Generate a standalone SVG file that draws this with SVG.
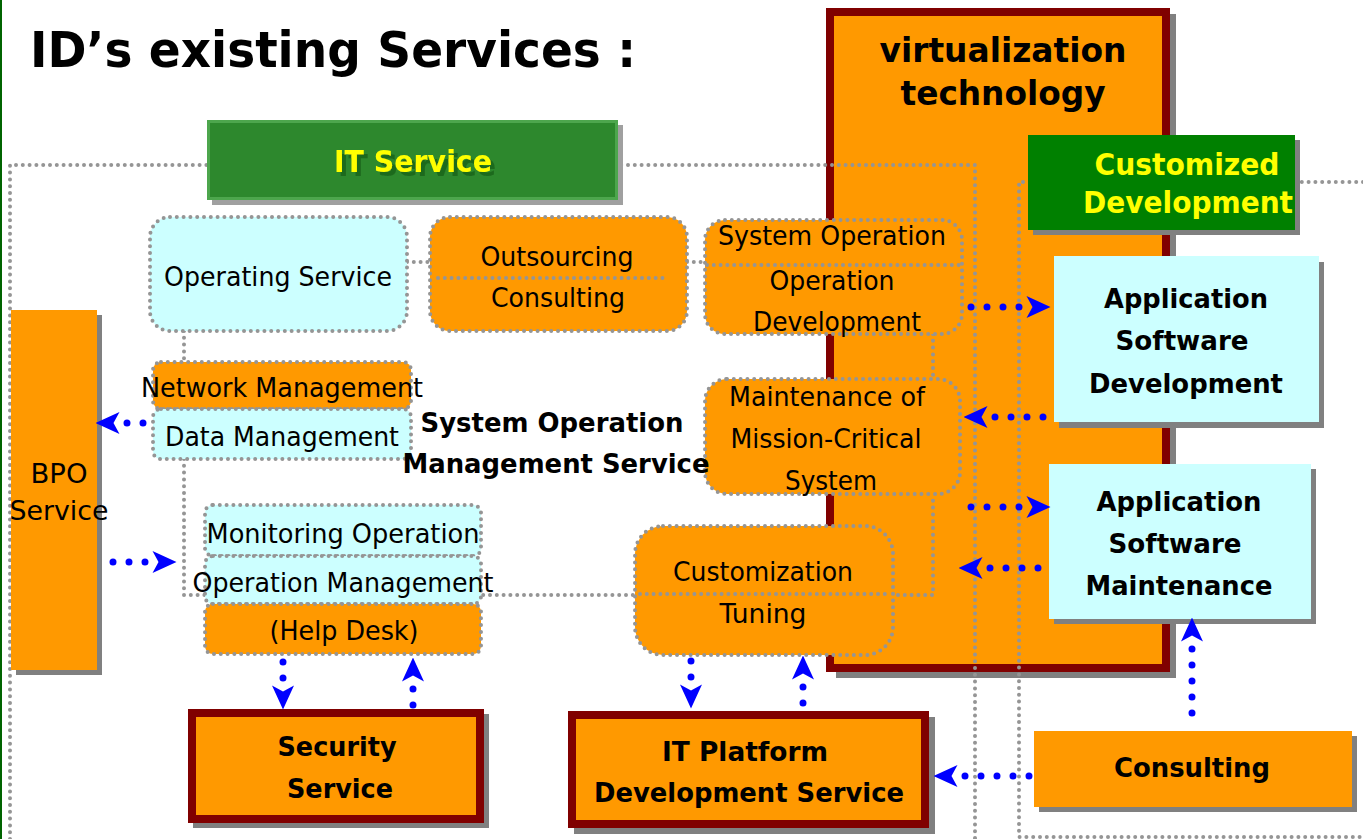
<svg xmlns="http://www.w3.org/2000/svg" width="1363" height="839" viewBox="0 0 1363 839">
<defs>
<style>
.t{font-family:"DejaVu Sans","Liberation Sans",sans-serif;font-size:27px;fill:#000;text-anchor:middle}
.b{font-weight:bold}
.y{fill:#FFFF00}
.dot{fill:none;stroke:#959595;stroke-width:4;stroke-dasharray:0 6.8;stroke-linecap:round}
.rbox{stroke:#959595;stroke-width:4;stroke-dasharray:0 6.8;stroke-linecap:round}
.or{fill:#FF9900}
.cy{fill:#CCFFFF}
.sh{fill:#808080}
.red{fill:#FF9900;stroke:#800000;stroke-width:8}
.arr{fill:none;stroke:#0000FF;stroke-width:7;stroke-dasharray:0 16;stroke-linecap:round;marker-end:url(#ah)}
</style>
<marker id="ah" viewBox="0 0 31 22" refX="0" refY="11" markerWidth="31" markerHeight="22" markerUnits="userSpaceOnUse" orient="auto">
<path d="M7,0 L31,11 L7,22 L13,11 Z" fill="#0000FF"/>
</marker>
<filter id="tsh" x="-10%" y="-20%" width="130%" height="160%">
<feOffset in="SourceAlpha" dx="4" dy="4" result="o"/>
<feFlood flood-color="#1E6A1E"/>
<feComposite operator="in" in2="o" result="s"/>
<feMerge><feMergeNode in="s"/><feMergeNode in="SourceGraphic"/></feMerge>
</filter>
</defs>
<rect width="1363" height="839" fill="#FFFFFF"/>
<rect x="0" y="0" width="2" height="839" fill="#006400"/>

<g id="title">
<text class="t b" x="30" y="67" style="font-size:50px;text-anchor:start" textLength="606" lengthAdjust="spacingAndGlyphs">ID’s existing Services :</text>
</g>

<g id="virtualization">
<rect class="sh" x="836" y="14" width="340" height="664"/>
<rect class="red" x="830" y="12" width="336" height="656"/>
<text class="t b" x="1003" y="62" style="font-size:33px" textLength="247" lengthAdjust="spacingAndGlyphs">virtualization</text>
<text class="t b" x="1003" y="105" style="font-size:33px" textLength="205" lengthAdjust="spacingAndGlyphs">technology</text>
</g>

<g id="regions">
<path class="dot" d="M10,839 V165 H975 V839"/>
<path class="dot" d="M1363,182 H1019 V837 H1363"/>
</g>

<g id="group-lines">
<path class="dot" d="M407,262 H430"/>
<path class="dot" d="M687,262 H705"/>
<path class="dot" d="M184,331 V362"/>
<path class="dot" d="M184,459 V595 H933 V494"/>
<path class="dot" d="M933,334 V379"/>
</g>

<g id="it-service">
<rect x="212" y="125" width="411" height="80" fill="#A0A0A0"/>
<rect x="208.5" y="121.5" width="408" height="77" fill="#2D882D" stroke="#4DA64D" stroke-width="3"/>
<text class="t b y" x="413" y="172" style="font-size:30px" filter="url(#tsh)" textLength="158" lengthAdjust="spacingAndGlyphs">IT Service</text>
</g>

<g id="customized-development">
<rect class="sh" x="1033" y="140" width="267" height="95"/>
<rect x="1028" y="135" width="267" height="95" fill="#008000"/>
<text class="t b y" x="1187" y="175" style="font-size:30px" textLength="185" lengthAdjust="spacingAndGlyphs">Customized</text>
<text class="t b y" x="1188" y="213" style="font-size:30px" textLength="210" lengthAdjust="spacingAndGlyphs">Development</text>
</g>

<g id="operating-service">
<rect class="rbox cy" x="150" y="217" width="257" height="114" rx="20"/>
<text class="t" x="278" y="286" textLength="228" lengthAdjust="spacingAndGlyphs">Operating Service</text>
</g>

<g id="outsourcing-consulting">
<rect class="rbox or" x="430" y="217" width="257" height="114" rx="20"/>
<path class="dot" d="M438,278 H668"/>
<text class="t" x="557" y="266" textLength="153" lengthAdjust="spacingAndGlyphs">Outsourcing</text>
<text class="t" x="558" y="307" textLength="134" lengthAdjust="spacingAndGlyphs">Consulting</text>
</g>

<g id="system-operation">
<rect class="rbox or" x="705" y="220" width="257" height="114" rx="20"/>
<path class="dot" d="M707,265 H960"/>
<text class="t" x="832" y="245" textLength="228" lengthAdjust="spacingAndGlyphs">System Operation</text>
<text class="t" x="832" y="290" textLength="125" lengthAdjust="spacingAndGlyphs">Operation</text>
<text class="t" x="837" y="331" textLength="168" lengthAdjust="spacingAndGlyphs">Development</text>
</g>

<g id="maintenance">
<rect class="rbox or" x="705" y="379" width="255" height="115" rx="22"/>
<text class="t" x="827" y="406" textLength="196" lengthAdjust="spacingAndGlyphs">Maintenance of</text>
<text class="t" x="826" y="448" textLength="191" lengthAdjust="spacingAndGlyphs">Mission-Critical</text>
<text class="t" x="831" y="490" textLength="92" lengthAdjust="spacingAndGlyphs">System</text>
</g>

<g id="network-management">
<rect class="rbox or" x="153" y="362" width="258" height="47" rx="8"/>
<text class="t" x="282" y="397" textLength="282" lengthAdjust="spacingAndGlyphs">Network Management</text>
</g>

<g id="data-management">
<rect class="rbox cy" x="153" y="409" width="258" height="50" rx="8"/>
<text class="t" x="282" y="446" textLength="234" lengthAdjust="spacingAndGlyphs">Data Management</text>
</g>

<g id="system-operation-management-service">
<text class="t b" x="552" y="432" style="font-size:26px" textLength="263" lengthAdjust="spacingAndGlyphs">System Operation</text>
<text class="t b" x="556" y="473" style="font-size:26px" textLength="307" lengthAdjust="spacingAndGlyphs">Management Service</text>
</g>

<g id="bpo-service">
<rect class="sh" x="16" y="315" width="86" height="360"/>
<rect class="or" x="11" y="310" width="86" height="360"/>
<text class="t" x="59" y="483" textLength="57" lengthAdjust="spacingAndGlyphs">BPO</text>
<text class="t" x="59" y="520" textLength="99" lengthAdjust="spacingAndGlyphs">Service</text>
</g>

<g id="monitoring-operation">
<rect class="rbox cy" x="205" y="505" width="276" height="51" rx="8"/>
<text class="t" x="343" y="543" textLength="273" lengthAdjust="spacingAndGlyphs">Monitoring Operation</text>
</g>

<g id="operation-management">
<rect class="rbox cy" x="205" y="556" width="276" height="48" rx="8"/>
<text class="t" x="343" y="592" textLength="301" lengthAdjust="spacingAndGlyphs">Operation Management</text>
</g>

<g id="help-desk">
<rect class="rbox or" x="205" y="604" width="276" height="50" rx="8"/>
<text class="t" x="344" y="640" textLength="149" lengthAdjust="spacingAndGlyphs">(Help Desk)</text>
</g>

<g id="customization-tuning">
<rect class="rbox or" x="635" y="526" width="258" height="129" rx="28"/>
<path class="dot" d="M640,594 H890"/>
<text class="t" x="763" y="581" textLength="180" lengthAdjust="spacingAndGlyphs">Customization</text>
<text class="t" x="763" y="623" textLength="87" lengthAdjust="spacingAndGlyphs">Tuning</text>
</g>

<g id="security-service">
<rect class="sh" x="193" y="714" width="296" height="114"/>
<rect class="red" x="192" y="713" width="288" height="106"/>
<text class="t b" x="337" y="756" textLength="119" lengthAdjust="spacingAndGlyphs">Security</text>
<text class="t b" x="340" y="798" textLength="106" lengthAdjust="spacingAndGlyphs">Service</text>
</g>

<g id="it-platform">
<rect class="sh" x="574" y="717" width="361" height="117"/>
<rect class="red" x="572" y="715" width="353" height="109"/>
<text class="t b" x="745" y="761" textLength="166" lengthAdjust="spacingAndGlyphs">IT Platform</text>
<text class="t b" x="749" y="802" textLength="310" lengthAdjust="spacingAndGlyphs">Development Service</text>
</g>

<g id="app-software-development">
<rect class="sh" x="1059" y="262" width="265" height="166"/>
<rect class="cy" x="1054" y="256" width="265" height="166"/>
<text class="t b" x="1186" y="308" textLength="164" lengthAdjust="spacingAndGlyphs">Application</text>
<text class="t b" x="1182" y="350" textLength="133" lengthAdjust="spacingAndGlyphs">Software</text>
<text class="t b" x="1186" y="393" textLength="194" lengthAdjust="spacingAndGlyphs">Development</text>
</g>

<g id="app-software-maintenance">
<rect class="sh" x="1054" y="469" width="262" height="155"/>
<rect class="cy" x="1049" y="464" width="262" height="155"/>
<text class="t b" x="1179" y="511" textLength="165" lengthAdjust="spacingAndGlyphs">Application</text>
<text class="t b" x="1175" y="553" textLength="133" lengthAdjust="spacingAndGlyphs">Software</text>
<text class="t b" x="1179" y="595" textLength="187" lengthAdjust="spacingAndGlyphs">Maintenance</text>
</g>

<g id="consulting">
<rect class="sh" x="1039" y="736" width="318" height="76"/>
<rect class="or" x="1034" y="731" width="318" height="76"/>
<text class="t b" x="1192" y="777" textLength="156" lengthAdjust="spacingAndGlyphs">Consulting</text>
</g>

<g id="connectors">
<path class="arr" d="M143,423 H126.5"/>
<path class="arr" d="M113,562 H145.5"/>
<path class="arr" d="M283,662 V678.5"/>
<path class="arr" d="M413,705 V688.5"/>
<path class="arr" d="M691,661 V677.5"/>
<path class="arr" d="M803,703 V686.5"/>
<path class="arr" d="M1029,776 H964.5"/>
<path class="arr" d="M1192,713 V648.5"/>
<path class="arr" d="M971,307 H1019.5"/>
<path class="arr" d="M1043,417 H994.5"/>
<path class="arr" d="M971,507 H1019.5"/>
<path class="arr" d="M1038,568 H989.5"/>
</g>
</svg>
